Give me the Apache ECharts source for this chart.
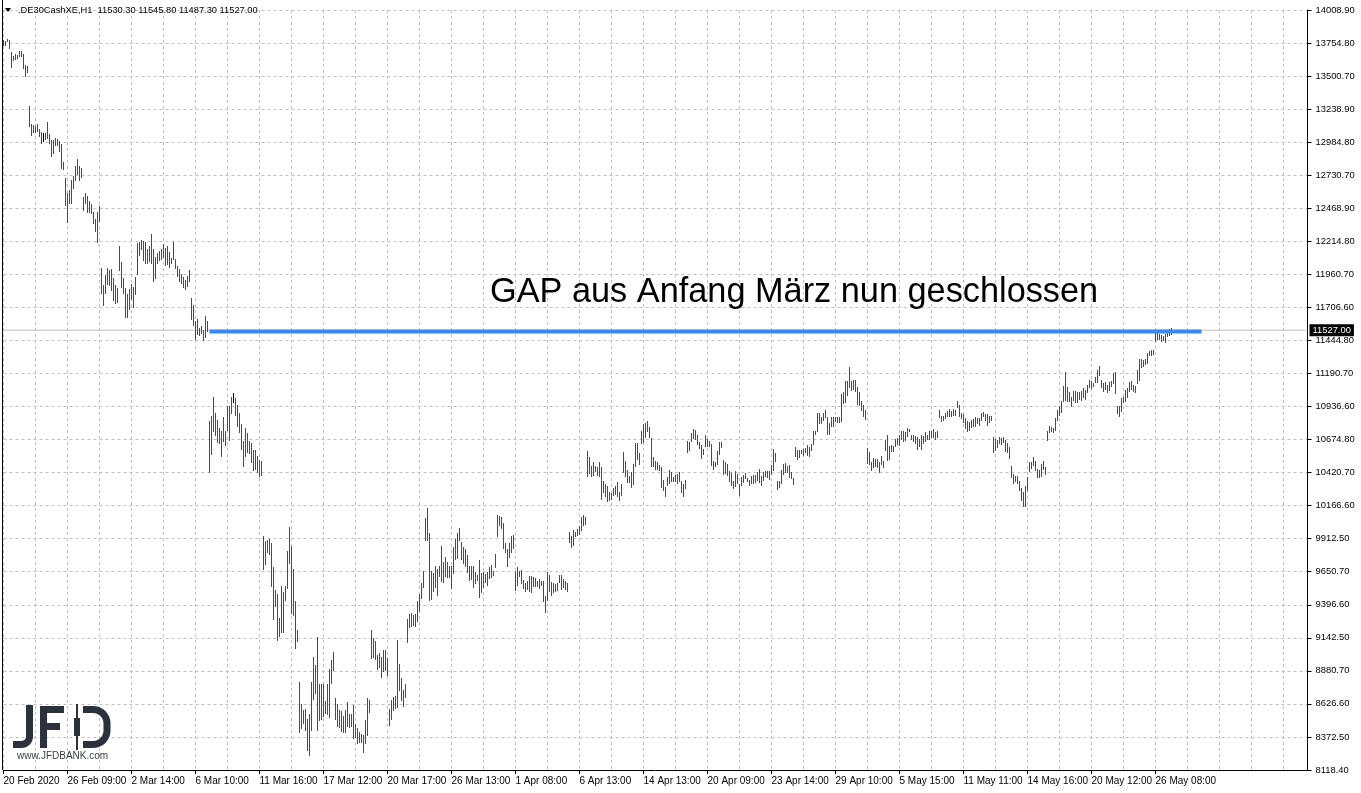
<!DOCTYPE html>
<html>
<head>
<meta charset="utf-8">
<script src="https://cdn.jsdelivr.net/npm/echarts@6/dist/echarts.min.js"></script>
<style>
html,body{margin:0;padding:0;background:#fff;}
#chart{width:1361px;height:793px;}
</style>
</head>
<body>
<div id="chart"></div>
<script>
// ---- data (DE30 cash, H1 bars) ----
const symbolName = '.DE30CashXE,H1';
const lastOHLC = [11530.30, 11545.80, 11487.30, 11527.00];
const currentPrice = 11527.00;
const gapLevel = 11517;
const gapLineFrom = 103, gapLineTo = 599;   // bar positions of the drawn line
const annotation = 'GAP aus Anfang März nun geschlossen';

const xLabels = ['20 Feb 2020','26 Feb 09:00','2 Mar 14:00','6 Mar 10:00','11 Mar 16:00','17 Mar 12:00',
  '20 Mar 17:00','26 Mar 13:00','1 Apr 08:00','6 Apr 13:00','14 Apr 13:00','20 Apr 09:00','23 Apr 14:00',
  '29 Apr 10:00','5 May 15:00','11 May 11:00','14 May 16:00','20 May 12:00','26 May 08:00'];
const yLabels = ['8118.40','8372.50','8626.60','8880.70','9142.50','9396.60','9650.70','9912.50','10166.60',
  '10420.70','10674.80','10936.60','11190.70','11444.80','11706.60','11960.70','12214.80','12468.90',
  '12730.70','12984.80','13238.90','13500.70','13754.80','14008.90'];

const barHigh = [
13776,13768,13784,13776,13683,13652,13667,13662,13691,13691,
13667,13585,13574,13264,13124,13116,13111,13124,13088,13062,
13054,13052,13140,13047,13000,13000,13016,13010,12992,12969,
12827,12705,12591,12617,12690,12721,12798,12853,12798,12785,
12560,12589,12568,12532,12506,12444,12387,12444,12488,12009,
11875,11952,12007,11991,11999,11932,11875,11854,12177,12056,
11932,11851,11805,11846,11888,11859,11937,12203,12208,12224,
12219,12208,12154,12177,12270,12154,12094,12126,12141,12157,
12198,12162,12177,12133,12089,12208,12082,12027,12001,11965,
11939,11913,11950,11991,11774,11719,11598,11611,11544,11562,
11531,11634,11595,10827,10866,11008,10884,10835,10767,10744,
10853,10749,10936,10943,11008,11039,10998,10951,10889,10801,
10672,10767,10729,10672,10651,10602,10602,10555,10522,10511,
9934,9896,9903,9906,9875,9694,9513,9479,9298,9546,
9500,9544,9818,9999,9857,9676,9430,9207,8801,8628,
8584,8592,8517,8550,8801,8995,8931,9151,8788,8783,
8783,8654,8788,8900,8969,9034,8680,8628,8581,8576,
8537,8584,8643,8550,8555,8623,8473,8447,8416,8400,
8390,8504,8680,8662,9207,9138,9119,9011,9029,8995,
9047,9047,8990,8589,8659,8685,8693,9125,8938,8835,
8739,8788,9288,9326,9339,9321,9326,9425,9482,9564,
9663,10069,10147,9953,9663,9642,9702,9676,9702,9852,
9733,9766,9733,9696,9696,9849,9909,9953,9991,9888,
9844,9831,9787,9702,9702,9702,9650,9632,9748,9642,
9650,9637,9655,9689,9709,9663,9795,10097,10087,10082,
10030,9878,9831,9875,9934,9942,9650,9689,9663,9668,
9593,9564,9585,9619,9619,9611,9603,9585,9598,9585,
9585,9469,9655,9629,9577,9564,9559,9564,9632,9627,
9601,9585,9564,9960,9934,9978,9965,9986,10012,10077,
10097,10077,10594,10542,10478,10509,10478,10470,10509,10465,
10361,10335,10322,10271,10268,10304,10322,10348,10276,10335,
10586,10516,10444,10400,10426,10491,10654,10651,10573,10749,
10801,10806,10827,10780,10690,10548,10511,10509,10485,10465,
10369,10315,10392,10444,10426,10392,10408,10413,10429,10361,
10335,10366,10672,10659,10731,10762,10754,10711,10664,10641,
10607,10718,10685,10672,10646,10511,10504,10594,10659,10664,
10522,10509,10491,10439,10418,10361,10439,10413,10335,10387,
10408,10418,10382,10366,10400,10408,10408,10426,10452,10400,
10426,10434,10434,10439,10483,10607,10576,10361,10361,10444,
10491,10496,10478,10485,10426,10382,10620,10599,10599,10599,
10604,10612,10641,10625,10646,10749,10744,10884,10884,10853,
10884,10905,10858,10806,10858,10853,10853,10853,10853,11034,
11047,11132,11130,11241,11130,11142,11145,11086,11047,10982,
10951,10905,10612,10581,10509,10537,10529,10529,10509,10555,
10517,10677,10718,10633,10638,10633,10685,10690,10711,10749,
10742,10736,10770,10760,10718,10718,10705,10698,10685,10711,
10705,10736,10718,10749,10749,10760,10736,10749,10905,10866,
10866,10884,10899,10918,10899,10918,10912,10982,10951,10884,
10874,10848,10827,10819,10832,10840,10858,10848,10843,10884,
10892,10879,10874,10861,10861,10698,10685,10677,10703,10690,
10698,10677,10651,10620,10478,10413,10400,10395,10361,10302,
10276,10322,10387,10504,10509,10548,10516,10452,10444,10491,
10516,10465,10749,10788,10780,10767,10845,10910,10938,10977,
11091,11207,11086,11047,11013,11055,11055,11052,11052,11055,
11080,11060,11104,11143,11132,11117,11163,11215,11246,11145,
11117,11124,11099,11124,11137,11194,11202,10943,10943,11000,
11013,11065,11080,11124,11137,11099,11091,11215,11306,11306,
11300,11306,11350,11365,11370,11375,11512,11505,11494,11487,
11479,11494,11520,11538,11545.8];

const barLow = [
13732,13732,13763,13704,13561,13616,13621,13626,13642,13647,
13554,13492,13523,13104,13031,13057,13057,13065,13026,12972,
12985,13000,13010,12972,12871,12891,12951,12956,12912,12778,
12770,12490,12358,12506,12509,12622,12684,12728,12684,12708,
12452,12509,12436,12433,12426,12351,12289,12203,12366,11810,
11712,11810,11875,11870,11831,11753,11732,11738,11986,11851,
11810,11621,11621,11686,11763,11701,11797,11957,12105,12146,
12063,12043,12043,12056,12038,11898,11924,12038,12063,12074,
12087,12027,12030,12012,12038,12069,12001,11939,11898,11888,
11851,11841,11862,11898,11603,11556,11448,11487,11484,11494,
11443,11469,11513,10423,10563,10736,10710,10651,10646,10548,
10659,10633,10742,10672,10879,10961,10866,10780,10729,10599,
10470,10542,10573,10568,10496,10439,10447,10418,10387,10400,
9670,9709,9797,9784,9538,9282,9378,9119,9151,9179,
9184,9430,9523,9714,9326,9314,9060,9107,8403,8439,
8473,8421,8266,8227,8421,8659,8706,8421,8499,8504,
8530,8550,8543,8519,8788,8887,8509,8452,8447,8416,
8408,8405,8452,8447,8452,8356,8369,8317,8330,8330,
8253,8323,8382,8563,8975,8990,8972,8897,8907,8835,
8881,8887,8848,8460,8504,8576,8594,8602,8731,8654,
8607,8680,9101,9218,9228,9236,9223,9267,9342,9443,
9526,9896,9896,9430,9438,9500,9526,9469,9611,9572,
9570,9616,9603,9606,9518,9634,9746,9751,9890,9748,
9715,9689,9642,9585,9593,9531,9557,9580,9448,9487,
9528,9567,9541,9598,9603,9624,9681,9927,10009,9986,
9834,9797,9694,9764,9797,9828,9508,9546,9611,9559,
9520,9500,9513,9495,9492,9533,9533,9539,9520,9546,
9422,9332,9430,9500,9464,9487,9495,9502,9564,9513,
9526,9513,9500,9875,9836,9857,9921,9932,9940,9973,
10012,10020,10387,10413,10387,10395,10426,10400,10387,10214,
10263,10237,10193,10201,10211,10240,10250,10232,10206,10245,
10418,10387,10341,10341,10304,10330,10465,10524,10485,10646,
10651,10690,10736,10692,10465,10470,10444,10447,10434,10304,
10278,10237,10320,10335,10348,10348,10354,10335,10348,10263,
10232,10297,10573,10589,10659,10685,10679,10638,10607,10529,
10563,10620,10620,10625,10478,10444,10470,10485,10563,10612,
10408,10413,10395,10348,10322,10297,10310,10335,10245,10322,
10341,10374,10354,10322,10335,10335,10346,10361,10341,10322,
10361,10387,10382,10366,10408,10439,10509,10291,10302,10335,
10408,10418,10418,10379,10372,10330,10548,10522,10537,10568,
10555,10573,10555,10542,10589,10641,10711,10736,10801,10801,
10827,10848,10718,10718,10780,10780,10817,10806,10809,10814,
10956,10964,11016,11078,11055,11060,11047,10951,10943,10899,
10858,10835,10491,10483,10434,10460,10465,10460,10421,10485,
10457,10594,10511,10522,10586,10581,10620,10638,10633,10677,
10659,10672,10698,10736,10677,10659,10646,10599,10620,10602,
10646,10664,10677,10677,10690,10692,10677,10692,10845,10814,
10827,10840,10853,10853,10858,10866,10866,10925,10853,10840,
10806,10765,10736,10749,10770,10775,10780,10801,10788,10827,
10853,10827,10783,10806,10822,10573,10589,10615,10646,10641,
10654,10581,10573,10529,10379,10335,10354,10335,10278,10206,
10159,10154,10284,10426,10452,10478,10439,10382,10382,10387,
10444,10408,10672,10729,10736,10731,10749,10822,10866,10884,
10969,10982,10974,10969,10930,10977,10961,10964,10990,10977,
11003,10987,11039,11078,11073,11086,11117,11117,11176,11080,
11047,11060,11039,11055,11086,11112,11029,10880,10858,10892,
10964,10969,11003,11047,11060,11047,11042,11112,11137,11236,
11241,11254,11267,11324,11331,11337,11435,11448,11448,11435,
11443,11430,11474,11479,11487.3];

// bar direction: g = up (close > open), r = down, k = unchanged
const barDir = [
'rggrgrgggr','rrgrrrgrrg','krrrrggrrr','rrgrggggrg','ggrgrrrgrr','rgggrrggrr','rrggrggggg','rrgrgrgggg','grrgrrrrrr','rggggrrrgg',
'rgrrggrrrg','rgrggkrrrr','rgrrrrgrrr','rggrrrgrgr','ggggrrrrrr','grrgggrrrg','rgrgggrgrr','rgrgrgrrrg','rgggggrgrr','grrgggggrr',
'ggrgrggggg','grrrgrrggg','grrrggrggg','rrrrgrgrrg','rgggrgggrr','rrgrgggrgr','rggrrggrgr','rggrrggggr','rrrgrgrggg','rggrrgggrr',
'ggrrgggrgg','grrgrggrgr','ggrrrgrrrr','rrrgrggrgr','ggrgggrrrr','grrrrggggg','rgrgrrgrrg','grrggrggrg','rgrgggrrrg','grgrrrgrgr',
'gggrggrgrg','grrggrggrg','gggrrgrrgr','rrrrrgrrgr','rgrgrggggg','rggrgrgrrg','ggrgrgrgrg','rggggrgrrr','rrgggggrgg','rrrgrrggrg',
'rrrrrgrrrr','rggggrrrgg','rrggrggggg','grrrrggrgr','gggrgrgggr','grrgggrggg','rgggrrgrgg','gggrgrrrrr','rgggr'].join('');

// ---- layout ----
const SLOTS = 653;               // chart width in bar slots (2 px per bar)
const LABEL_EVERY = 32, GRID_EVERY = 16;
const yMin = 8118.4, yMax = 14008.9;
const yStep = (yMax - yMin) / (yLabels.length - 1);
const FONT = '"Liberation Sans", Arial, sans-serif';
const dirColor = {g: '#008000', r: '#ff0000', k: '#000000'};
const LOGO = '#2b323b';

const categories = [];
for (let i = 0; i < SLOTS; i++) categories.push(String(i));

const barData = barHigh.map((h, i) => [i, barLow[i], h, barDir[i]]);
const showLabel = (i) => i % LABEL_EVERY === 0 && i / LABEL_EVERY < xLabels.length;

// rounded stroke paths for the logo letters
function arcPts(cx, cy, r, a0, a1, n) {
  const pts = [];
  for (let k = 0; k <= n; k++) {
    const a = a0 + (a1 - a0) * k / n;
    pts.push([cx + r * Math.cos(a), cy + r * Math.sin(a)]);
  }
  return pts;
}
const jPts = [[29.5, 705]].concat(arcPts(21.5, 736.5, 8, 0, Math.PI / 2, 8)).concat([[13, 744.5]]);
const dPts = [[83, 709.5]].concat(arcPts(93, 723.5, 14, -Math.PI / 2, 0, 10))
  .concat(arcPts(93, 730.5, 14, 0, Math.PI / 2, 10)).concat([[83, 744.5]]);

const chart = echarts.init(document.getElementById('chart'), null, {renderer: 'canvas'});
chart.setOption({
  animation: false,
  backgroundColor: '#ffffff',
  grid: {left: 3.5, right: 53.5, top: 10, bottom: 23, show: false},
  xAxis: {
    type: 'category', data: categories, boundaryGap: false,
    axisLine: {show: true, lineStyle: {color: '#000', width: 1}},
    axisTick: {show: true, length: 4, interval: showLabel, lineStyle: {color: '#000'}},
    axisLabel: {
      interval: showLabel,
      formatter: (v) => xLabels[Math.round(Number(v) / LABEL_EVERY)] || '',
      align: 'left', margin: 6,
      color: '#000', fontFamily: FONT, fontSize: 10
    },
    splitLine: {show: true, interval: (i) => i % GRID_EVERY === 0, lineStyle: {color: '#c0c0c0', width: 1, type: [3, 3]}}
  },
  yAxis: {
    type: 'value', position: 'right', min: yMin, max: yMax, interval: yStep, scale: true,
    axisLine: {show: true, lineStyle: {color: '#000', width: 1}},
    axisTick: {show: true, length: 4, lineStyle: {color: '#000'}},
    axisLabel: {
      formatter: (v) => yLabels[Math.round((v - yMin) / yStep)] || '',
      color: '#000', fontFamily: FONT, fontSize: 9.4, margin: 8
    },
    splitLine: {show: true, lineStyle: {color: '#c0c0c0', width: 1, type: [3, 3]}}
  },
  series: [
    {
      type: 'custom', name: 'bars', clip: false,
      data: barData,
      encode: {x: 0, y: [1, 2]},
      renderItem: function (params, api) {
        const i = api.value(0);
        const top = api.coord([i, api.value(2)]);
        const bot = api.coord([i, api.value(1)]);
        const x = Math.floor(top[0]) + 0.5;
        let y1 = Math.round(top[1]), y2 = Math.round(bot[1]);
        if (y2 - y1 < 1) y2 = y1 + 1;
        const d = barData[params.dataIndex][3];
        return {type: 'line', shape: {x1: x, y1: y1, x2: x, y2: y2},
                style: {stroke: dirColor[d], lineWidth: 1}};
      },
      z: 3
    },
    {
      type: 'line', name: 'price', data: [[0, currentPrice], [SLOTS - 1, currentPrice]],
      symbol: 'none', lineStyle: {color: '#c0c0c0', width: 1}, z: 2, silent: true,
      markPoint: {
        symbol: 'rect', symbolSize: 0,
        data: [{coord: [SLOTS - 1, currentPrice],
          label: {show: true, position: 'right', distance: 2, formatter: currentPrice.toFixed(2),
            backgroundColor: '#000', color: '#fff', fontFamily: FONT, fontSize: 9.4, padding: [2, 3, 1, 3]}}]
      }
    },
    {
      type: 'line', name: 'gap', data: [[gapLineFrom, gapLevel], [gapLineTo, gapLevel]],
      symbol: 'none', lineStyle: {color: '#3a86f5', width: 4, cap: 'butt'}, z: 4, silent: true
    }
  ],
  graphic: [
    {type: 'line', shape: {x1: 2.5, y1: 0, x2: 2.5, y2: 770}, style: {stroke: '#000', lineWidth: 1}, z: 10},
    {type: 'polygon', shape: {points: [[5, 8], [11, 8], [8, 12]]}, style: {fill: '#000'}, z: 10},
    {type: 'text', left: 18, top: 6, z: 10,
      style: {text: symbolName + '  ' + lastOHLC.map(v => v.toFixed(2)).join(' '), fill: '#000', font: '9.3px ' + FONT}},
    {type: 'text', left: 490, top: 276, z: 10,
      style: {text: annotation, fill: '#000', font: '34.3px ' + FONT}},
    // JFD logo
    {type: 'polyline', z: 10, shape: {points: jPts}, style: {stroke: LOGO, lineWidth: 7, fill: null}},
    {type: 'rect', z: 10, shape: {x: 40, y: 706, width: 7, height: 42}, style: {fill: LOGO}},
    {type: 'rect', z: 10, shape: {x: 40, y: 706, width: 24, height: 7}, style: {fill: LOGO}},
    {type: 'rect', z: 10, shape: {x: 40, y: 723, width: 20, height: 7}, style: {fill: LOGO}},
    {type: 'rect', z: 10, shape: {x: 76, y: 704, width: 2, height: 46}, style: {fill: LOGO}},
    {type: 'rect', z: 10, shape: {x: 74, y: 718, width: 6, height: 18}, style: {fill: LOGO}},
    {type: 'polyline', z: 10, shape: {points: dPts}, style: {stroke: LOGO, lineWidth: 7, fill: null}},
    {type: 'text', left: 17, top: 751, z: 10,
      style: {text: 'www.JFDBANK.com', fill: '#3a3f45', font: '10px ' + FONT}}
  ]
});
</script>
</body>
</html>
